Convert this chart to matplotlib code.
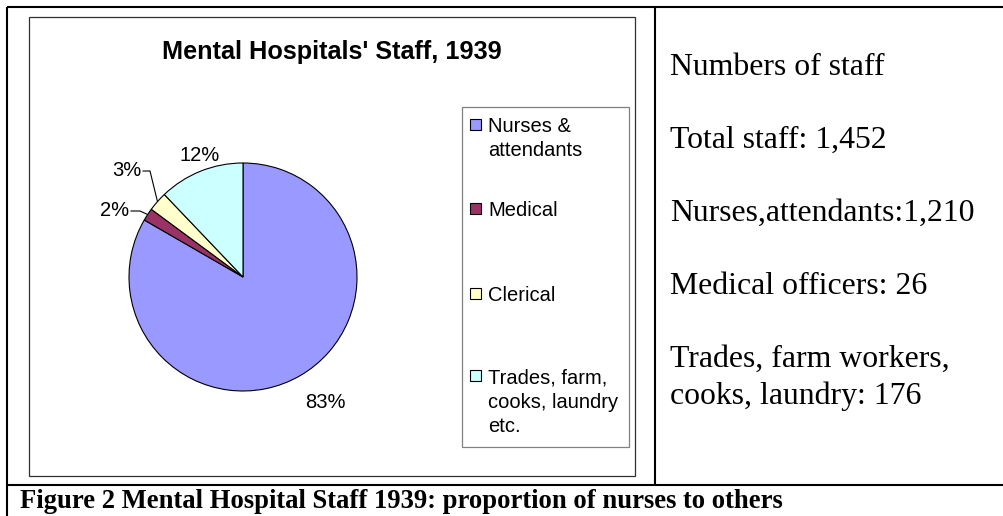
import matplotlib
matplotlib.use("Agg")
import matplotlib.pyplot as plt
from matplotlib.patches import Rectangle
import numpy as np

# ---------------- data ----------------
categories = ["Nurses &\nattendants", "Medical", "Clerical", "Trades, farm,\ncooks, laundry\netc."]
staff_counts = [1210, 26, 40, 176]
slice_colors = ["#9999FF", "#993366", "#FFFFCC", "#CCFFFF"]
chart_title = "Mental Hospitals' Staff, 1939"
side_lines = ["Numbers of staff", "Total staff: 1,452", "Nurses,attendants:1,210",
              "Medical officers: 26", "Trades, farm workers,", "cooks, laundry: 176"]
caption = "Figure 2 Mental Hospital Staff 1939: proportion of nurses to others"

W, H = 1004, 516
fig = plt.figure(figsize=(W / 100, H / 100), dpi=100)
fig.patch.set_facecolor("white")

# overlay axes in pixel coordinates (y down)
ov = fig.add_axes([0, 0, 1, 1])
ov.set_xlim(0, W)
ov.set_ylim(H, 0)
ov.axis("off")

# ---- table frame ----
lw_frame = 1.5
ov.plot([7, W], [7, 7], color="black", lw=lw_frame, solid_capstyle="butt")
ov.plot([7, W], [485, 485], color="black", lw=lw_frame, solid_capstyle="butt")
ov.plot([7, 7], [7, H], color="black", lw=lw_frame, solid_capstyle="butt")
ov.plot([655, 655], [7, 485], color="black", lw=lw_frame, solid_capstyle="butt")

# ---- chart area box ----
ov.add_patch(Rectangle((29, 17), 606, 459, fill=False, edgecolor="#303030", lw=0.9))
ov.text(332, 52, chart_title, ha="center", va="center", fontsize=18.2,
        fontweight="bold", family="Liberation Sans")

# ---- pie ----
cx, cy, R = 243, 277, 114
pax = fig.add_axes([(cx - R) / W, (H - cy - R) / H, 2 * R / W, 2 * R / H])
wedges, _ = pax.pie(staff_counts, colors=slice_colors, startangle=90, counterclock=False,
                    wedgeprops=dict(edgecolor="black", linewidth=0.8))
pax.set_xlim(-1, 1)
pax.set_ylim(-1, 1)
pax.set_aspect("equal")
pax.axis("off")

total = sum(staff_counts)
pcts = [f"{round(100 * v / total):d}%" for v in staff_counts]
mids = [np.deg2rad((w.theta1 + w.theta2) / 2) for w in wedges]

def edge(theta, r=1.0):
    return cx + R * r * np.cos(theta), cy - R * r * np.sin(theta)

lab_font = dict(fontsize=14.5, family="Liberation Sans")
# 83% (nurses)
x, y = edge(mids[0], 1.27)
ov.text(x + 10, y, pcts[0], ha="center", va="center", **lab_font)
# 12% (trades)
x, y = edge(mids[3], 1.13)
ov.text(x + 5, y - 2, pcts[3], ha="center", va="center", **lab_font)
# 3% (clerical) with leader
ex, ey = edge(mids[2], 1.0)
ov.plot([143, 150, ex], [171, 171, ey], color="black", lw=0.8)
ov.text(141, 171, pcts[2], ha="right", va="center", **lab_font)
# 2% (medical) with leader
ex, ey = edge(mids[1], 1.0)
ov.plot([131, 140, ex], [211, 211, ey], color="black", lw=0.8)
ov.text(129, 211, pcts[1], ha="right", va="center", **lab_font)

# ---- legend ----
ov.add_patch(Rectangle((462, 107), 167, 340, fill=False, edgecolor="#808080", lw=0.9))
first_baselines = [132, 216, 301, 383]
line_h = 24.5
for lab, col, base in zip(categories, slice_colors, first_baselines):
    ov.add_patch(Rectangle((470.5, base - 13), 11, 11, facecolor=col,
                           edgecolor="black", lw=0.8))
    for i, line in enumerate(lab.split("\n")):
        ov.text(488, base + i * line_h, line, ha="left", va="baseline", **lab_font)

# ---- side text ----
side_baselines = [75, 148, 221, 294, 367, 404]
for txt, b in zip(side_lines, side_baselines):
    ov.text(670, b, txt, ha="left", va="baseline", fontsize=22.9, family="Liberation Serif")

# ---- caption ----
ov.text(20, 508, caption, ha="left", va="baseline", fontsize=19.2,
        fontweight="bold", family="Liberation Serif")

fig.savefig("out.png", dpi=100, facecolor="white")
